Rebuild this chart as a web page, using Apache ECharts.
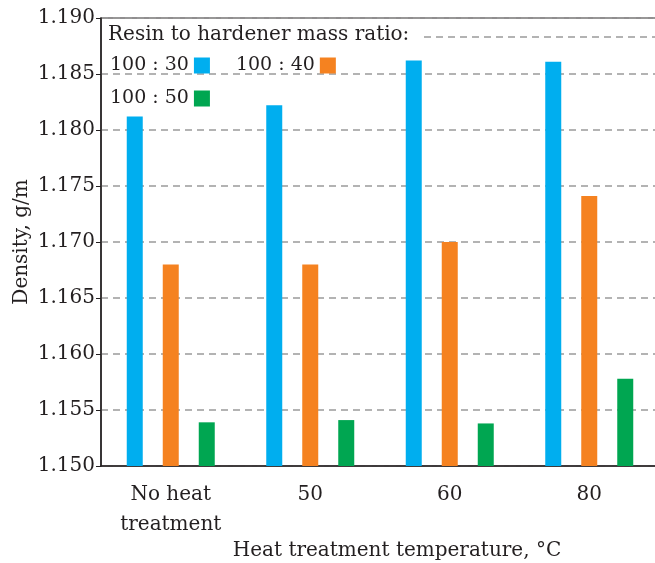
<!DOCTYPE html>
<html>
<head>
<meta charset="utf-8">
<script src="https://cdn.jsdelivr.net/npm/echarts@6/dist/echarts.min.js"></script>
<style>html,body{margin:0;padding:0;background:#fff}#c{width:655px;height:563px}</style>
</head>
<body>
<div id="c"></div>
<script>
var categories = ['No heat\ntreatment', '50', '60', '80'];
var seriesNames = ['100 : 30', '100 : 40', '100 : 50'];
var ratio30 = [1.1812, 1.1822, 1.1862, 1.1861];
var ratio40 = [1.1680, 1.1680, 1.1700, 1.1741];
var ratio50 = [1.1539, 1.1541, 1.1538, 1.1578];
var yTicks = { min: 1.150, max: 1.190, interval: 0.005 };
var legendTitle = 'Resin to hardener mass ratio:';
var xName = 'Heat treatment temperature, \u00B0C';
var yName = 'Density, g/m';

var FONT = 'DejaVu Serif';
var FS = 20;
var TXT = '#231f20';
var colors = ['#00aeef', '#f58220', '#00a651'];

var chart = echarts.init(document.getElementById('c'), null, {renderer: 'canvas'});
var values = [ratio30, ratio40, ratio50];
var legendBase = {
  left: 105, align: 'right', orient: 'horizontal',
  itemWidth: 16, itemHeight: 16, itemGap: 26, icon: 'rect',
  textStyle: {fontFamily: FONT, fontSize: 19, color: TXT}
};
chart.setOption({
  animation: false,
  backgroundColor: '#fff',
  textStyle: {fontFamily: FONT},
  title: {
    text: legendTitle, left: 103, top: 20,
    textStyle: {fontFamily: FONT, fontSize: FS, fontWeight: 'normal', color: TXT}
  },
  legend: [
    Object.assign({}, legendBase, {top: 51, data: [seriesNames[0], seriesNames[1]]}),
    Object.assign({}, legendBase, {top: 84, data: [seriesNames[2]]})
  ],
  grid: {left: 101, top: 18, width: 558, height: 448, show: true, borderColor: '#231f20', borderWidth: 1.2,
         containLabel: false, outerBoundsMode: 'none'},
  xAxis: {
    type: 'category', data: categories,
    axisLine: {lineStyle: {color: '#231f20', width: 1.5}},
    axisTick: {show: false},
    axisLabel: {fontFamily: FONT, fontSize: FS, color: TXT, margin: 14, lineHeight: 30, verticalAlign: 'top'},
    name: xName, nameLocation: 'middle', nameGap: 75, nameMoveOverlap: false,
    nameTextStyle: {fontFamily: FONT, fontSize: FS, color: TXT, padding: [0, 0, 0, 34]}
  },
  yAxis: {
    type: 'value', min: yTicks.min, max: yTicks.max, interval: yTicks.interval,
    axisLine: {show: true, lineStyle: {color: '#231f20', width: 1.5}},
    axisTick: {show: true, length: 5, inside: false, lineStyle: {color: '#231f20'}},
    axisLabel: {fontFamily: FONT, fontSize: FS, color: TXT, margin: 6, formatter: function(v){return v.toFixed(3);}},
    splitLine: {show: true, lineStyle: {color: '#9a9a9a', type: [7, 5], width: 1.5}},
    name: yName, nameLocation: 'middle', nameGap: 69, nameMoveOverlap: false,
    nameTextStyle: {fontFamily: FONT, fontSize: FS, color: TXT}
  },
  graphic: [{
    type: 'line', shape: {x1: 424, y1: 37, x2: 655, y2: 37},
    style: {stroke: '#9a9a9a', lineWidth: 1.5, lineDash: [7, 5]}, z: 5
  }],
  series: values.map(function(v, i){
    return {
      name: seriesNames[i], type: 'bar', data: v,
      barWidth: 16, barGap: '125%',
      itemStyle: {color: colors[i]}
    };
  })
});
</script>
</body>
</html>
